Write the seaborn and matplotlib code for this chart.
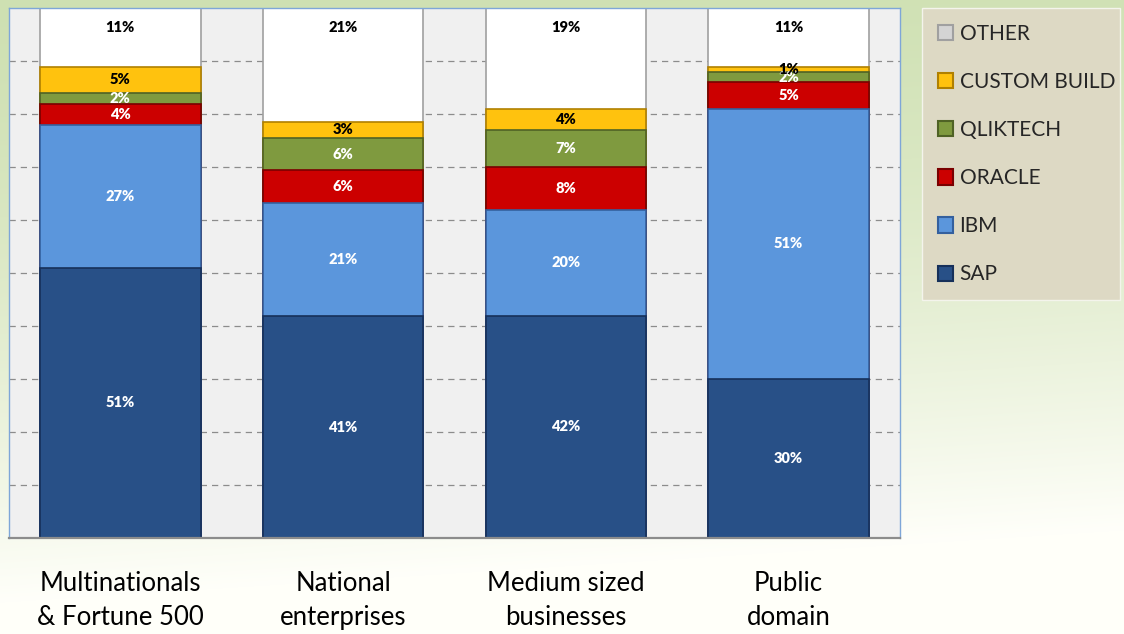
import numpy as np
import pandas as pd
import matplotlib.pyplot as plt
import seaborn as sns
from matplotlib.patches import Patch
from matplotlib.ticker import FixedLocator

categories = ["Multinationals\n& Fortune 500", "National\nenterprises",
              "Medium sized\nbusinesses", "Public\ndomain"]
companies = ["SAP", "IBM", "ORACLE", "QLIKTECH", "CUSTOM BUILD", "OTHER"]
sap = [51, 41, 42, 30]
ibm = [27, 21, 20, 51]
oracle = [4, 6, 8, 5]
qliktech = [2, 6, 7, 2]
custom_build = [5, 3, 4, 1]
other = [11, 21, 19, 11]

colors = {"SAP": "#285087", "IBM": "#5b96dc", "ORACLE": "#cc0000",
          "QLIKTECH": "#7f9a3f", "CUSTOM BUILD": "#ffc20e", "OTHER": "#ffffff"}
edges = {"SAP": "#16305a", "IBM": "#34609e", "ORACLE": "#7a0000",
         "QLIKTECH": "#4f6225", "CUSTOM BUILD": "#b08000", "OTHER": "#a0a0a0"}
text_col = {"SAP": "white", "IBM": "white", "ORACLE": "white",
            "QLIKTECH": "white", "CUSTOM BUILD": "black", "OTHER": "black"}
legend_col = dict(colors, OTHER="#d4d4d4")

df = pd.DataFrame({"category": categories, "SAP": sap, "IBM": ibm, "ORACLE": oracle,
                   "QLIKTECH": qliktech, "CUSTOM BUILD": custom_build, "OTHER": other})
# 100% stacked, like the original excel chart
share = df[companies].div(df[companies].sum(axis=1), axis=0) * 100
cum = share.cumsum(axis=1)
cum["category"] = df["category"]

sns.set_style("white")
plt.rcParams["font.family"] = ["Lato", "DejaVu Sans"]

fig = plt.figure(figsize=(11.24, 6.34), dpi=100)

# green -> white background
H, W = 634, 1124
yy, xx = np.mgrid[0:H, 0:W]
t = np.clip(yy / (0.95 * H) + 0.12 * xx / W, 0, 1) ** 1.5
top = np.array([0.81, 0.88, 0.70])
bot = np.array([1.0, 1.0, 0.98])
img = top[None, None, :] * (1 - t[..., None]) + bot[None, None, :] * t[..., None]
bg = fig.add_axes([0, 0, 1, 1], zorder=-5)
bg.imshow(img, aspect="auto")
bg.axis("off")

ax = fig.add_axes([0.008, 0.1514, 0.7927, 0.8356])
ax.set_facecolor("#f0f0f0")

# overlay the cumulative totals, tallest first
for comp in reversed(companies):
    sns.barplot(data=cum, x="category", y=comp, order=categories, color=colors[comp],
                width=0.72, edgecolor=edges[comp], linewidth=1.2, saturation=1,
                errorbar=None, ax=ax, zorder=2)

for i in range(len(categories)):
    for comp in companies:
        if comp == "OTHER":
            ypos = cum.loc[i, comp] - 3.6
        else:
            ypos = cum.loc[i, comp] - share.loc[i, comp] / 2
        ax.text(i, ypos, f"{df.loc[i, comp]}%", ha="center", va="center",
                fontsize=10.5, fontweight="heavy", color=text_col[comp], zorder=5)

ax.set_xlim(-0.5, len(categories) - 0.5)
ax.set_ylim(0, 100)
ax.set_xlabel("")
ax.set_ylabel("")
ax.set_yticks(np.arange(10, 100, 10))
ax.set_yticklabels([])
ax.yaxis.grid(True, linestyle=(0, (5, 4)), color="#8c8c8c", linewidth=0.9)
ax.set_axisbelow(True)
ax.tick_params(axis="y", length=0)
ax.tick_params(axis="x", which="major", length=0, pad=24, labelsize=18.5, colors="black")
ax.xaxis.set_minor_locator(FixedLocator(np.arange(-0.5, len(categories), 1)))
ax.tick_params(axis="x", which="minor", length=6, width=1.2, color="#8c8c8c")
for lab in ax.get_xticklabels():
    lab.set_linespacing(1.45)

for s in ["left", "top", "right"]:
    ax.spines[s].set_color("#7ea6d8")
    ax.spines[s].set_linewidth(1)
ax.spines["bottom"].set_color("#8c8c8c")
ax.spines["bottom"].set_linewidth(1.6)

handles = [Patch(facecolor=legend_col[c], edgecolor=edges[c], linewidth=1.5, label=c)
           for c in reversed(companies)]
leg = fig.legend(handles=handles, loc="upper left",
                 bbox_to_anchor=(0.8203, 0.5316, 0.1762, 0.4554), mode="expand",
                 fontsize=15, frameon=True, fancybox=False, framealpha=1,
                 facecolor="#ddd9c4", edgecolor="#f4f4ec", handlelength=0.75,
                 handleheight=0.75, handletextpad=0.3, labelspacing=1.35,
                 borderpad=0.75, borderaxespad=0)

fig.savefig("out.png", dpi=100)
